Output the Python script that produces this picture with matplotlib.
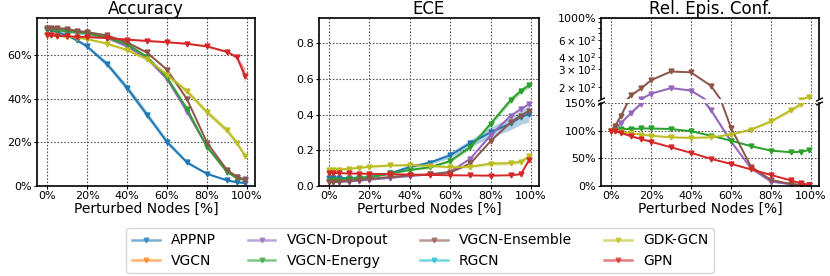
import numpy as np
import matplotlib
matplotlib.use("Agg")
import matplotlib.pyplot as plt
from matplotlib.ticker import PercentFormatter, FixedLocator

# perturbed share of nodes [%]
perturbed = [0, 2, 5, 10, 15, 20, 30, 40, 50, 60, 70, 80, 90, 95, 99]

models = ["APPNP", "VGCN", "VGCN-Dropout", "VGCN-Energy",
          "VGCN-Ensemble", "RGCN", "GDK-GCN", "GPN"]
colors = {"APPNP": "C0", "VGCN": "C1", "VGCN-Dropout": "C4", "VGCN-Energy": "C2",
          "VGCN-Ensemble": "C5", "RGCN": "C9", "GDK-GCN": "C8", "GPN": "C3"}

# accuracy [%]
acc_appnp = [71.5, 71.5, 70.5, 69, 66.8, 64, 55.9, 45, 32.7, 20.2, 10.8, 5.6, 2.6, 1.7, 1.4]
acc_dropout = [72, 71.8, 71.5, 71, 70.5, 70, 68, 64, 58.5, 49, 34, 18, 6.5, 4, 3]
acc_energy = [72, 71.8, 71.5, 71, 70.5, 70, 68, 65, 59.2, 49.8, 35.4, 17.9, 6.5, 3.5, 2.8]
acc_ensemble = [72.6, 72.5, 72.3, 72, 71, 70.5, 69, 65.8, 61.2, 53.3, 39.8, 19.9, 7.3, 4.3, 2.7]
acc_gdk = [69, 69, 68.8, 68.5, 68, 67.3, 65.3, 62.3, 58.2, 51, 43.4, 33.9, 25.5, 19.7, 13.8]
acc_gpn = [69.1, 69, 68.9, 68.6, 68.4, 68.3, 67.8, 67.1, 66.5, 65.9, 65.2, 64, 61.5, 59, 50.6]

acc_appnp_sd = [0.5, 0.5, 0.5, 0.5, 0.6, 0.8, 1.2, 1.5, 1.5, 1.2, 0.8, 0.5, 0.4, 0.4, 0.4]
acc_gdk_sd = [0.3, 0.3, 0.3, 0.3, 0.3, 0.4, 0.5, 0.6, 0.8, 1.0, 1.2, 1.3, 1.3, 1.2, 1.2]
acc_gpn_sd = [0.3, 0.3, 0.3, 0.3, 0.3, 0.3, 0.3, 0.3, 0.3, 0.3, 0.3, 0.4, 0.5, 0.8, 3.5]

# expected calibration error
ece_appnp = [0.042, 0.043, 0.044, 0.045, 0.047, 0.05, 0.07, 0.107, 0.131, 0.172, 0.24, 0.30, 0.35, 0.385, 0.403]
ece_dropout = [0.02, 0.021, 0.023, 0.025, 0.03, 0.035, 0.045, 0.055, 0.065, 0.08, 0.153, 0.283, 0.394, 0.43, 0.458]
ece_energy = [0.03, 0.032, 0.035, 0.04, 0.045, 0.05, 0.07, 0.09, 0.105, 0.14, 0.218, 0.348, 0.482, 0.532, 0.564]
ece_ensemble = [0.022, 0.023, 0.025, 0.03, 0.035, 0.04, 0.05, 0.06, 0.065, 0.075, 0.126, 0.251, 0.357, 0.394, 0.421]
ece_gdk = [0.09, 0.091, 0.092, 0.097, 0.102, 0.108, 0.115, 0.117, 0.113, 0.105, 0.108, 0.125, 0.128, 0.135, 0.166]
ece_gpn = [0.075, 0.073, 0.072, 0.07, 0.069, 0.068, 0.066, 0.064, 0.062, 0.06, 0.059, 0.058, 0.06, 0.066, 0.143]

ece_appnp_sd = [0.005, 0.005, 0.005, 0.005, 0.005, 0.006, 0.006, 0.008, 0.01, 0.015, 0.02, 0.03, 0.035, 0.04, 0.045]
ece_energy_sd = [0.003, 0.003, 0.003, 0.003, 0.003, 0.003, 0.004, 0.005, 0.006, 0.008, 0.01, 0.012, 0.015, 0.015, 0.015]
ece_gdk_sd = [0.005, 0.005, 0.005, 0.005, 0.005, 0.005, 0.006, 0.006, 0.006, 0.006, 0.008, 0.01, 0.01, 0.01, 0.012]

# relative epistemic confidence [%]
rec_dropout = [100, 103, 114, 132, 149, 170, 194, 183, 137, 80.5, 32, 8, 3, 2, 1.5]
rec_energy = [100, 102, 103, 103, 104, 104, 103, 99, 91, 82, 72, 64, 61, 62, 65]
rec_ensemble = [100, 108, 127, 163, 192, 233, 286, 280, 204, 105, 35, 11, 3.6, 2, 1.5]
rec_gdk = [100, 99, 97, 95, 93, 91, 88, 87, 88, 93, 102, 117, 137, 148, 158]
rec_gpn = [100, 99, 96, 90, 85, 80, 70, 60, 49, 40, 30, 20, 10, 5, 2]

rec_dropout_sd = [1, 1, 1, 2, 2, 2, 3, 4, 4, 3, 2, 1, 0.5, 0.5, 0.5]
rec_gdk_sd = [1, 1, 1, 1, 1, 1, 1, 1, 1, 1, 2, 3, 3, 4, 4]

acc = {"APPNP": (acc_appnp, acc_appnp_sd), "VGCN-Dropout": (acc_dropout, None),
       "VGCN-Energy": (acc_energy, None), "VGCN-Ensemble": (acc_ensemble, None),
       "GDK-GCN": (acc_gdk, acc_gdk_sd), "GPN": (acc_gpn, acc_gpn_sd)}
ece = {"APPNP": (ece_appnp, ece_appnp_sd), "VGCN-Dropout": (ece_dropout, None),
       "VGCN-Energy": (ece_energy, ece_energy_sd), "VGCN-Ensemble": (ece_ensemble, None),
       "GDK-GCN": (ece_gdk, ece_gdk_sd), "GPN": (ece_gpn, None)}
rec = {"VGCN-Dropout": (rec_dropout, rec_dropout_sd), "VGCN-Energy": (rec_energy, None),
       "VGCN-Ensemble": (rec_ensemble, None), "GDK-GCN": (rec_gdk, rec_gdk_sd),
       "GPN": (rec_gpn, None)}

plt.rcParams["font.size"] = 10
TICK = 8


def draw(ax, series):
    x = np.array(perturbed)
    for name, (y, sd) in series.items():
        y = np.array(y)
        ax.plot(x, y, color=colors[name], marker="v", ms=3.5, lw=1.4)
        if sd is None:
            sd = np.abs(y) * 0.01
        sd = np.array(sd)
        ax.fill_between(x, y - sd, y + sd, color=colors[name], alpha=0.35, lw=0)


def style(ax):
    ax.grid(True, ls=(0, (1.5, 1.5)), color="0.35", lw=0.8)
    for s in ax.spines.values():
        s.set_linewidth(1.2)
    ax.set_xticks([0, 20, 40, 60, 80, 100])
    ax.xaxis.set_major_formatter(PercentFormatter(decimals=0))
    ax.tick_params(which="both", length=2, pad=1.5, labelsize=TICK)


fig = plt.figure(figsize=(8.3, 2.76), dpi=100)
H = 276
W = 830


def box(l, r, t, b):
    return [l / W, (H - b) / H, (r - l) / W, (b - t) / H]


# Accuracy
ax1 = fig.add_axes(box(37, 255, 18, 186))
draw(ax1, acc)
style(ax1)
ax1.set_xlim(-5, 104)
ax1.set_ylim(0, 77)
ax1.set_yticks([0, 20, 40, 60])
ax1.yaxis.set_major_formatter(PercentFormatter(decimals=0))
ax1.set_title("Accuracy", pad=1.5)
ax1.set_xlabel("Perturbed Nodes [%]", labelpad=1)

# ECE
ax2 = fig.add_axes(box(319, 539, 18, 186))
draw(ax2, ece)
style(ax2)
ax2.set_xlim(-5, 104)
ax2.set_ylim(0, 0.94)
ax2.set_yticks([0, 0.2, 0.4, 0.6, 0.8])
ax2.set_title("ECE", pad=1.5)
ax2.set_xlabel("Perturbed Nodes [%]", labelpad=1)

# Rel. Epis. Conf. with broken y axis
ax3t = fig.add_axes(box(601, 819, 18, 99))
ax3b = fig.add_axes(box(601, 819, 103, 186))
for a in (ax3t, ax3b):
    draw(a, rec)
    style(a)
    a.set_xlim(-5, 104)
ax3t.set_yscale("log")
ax3t.set_ylim(150, 1000)
ax3t.yaxis.set_major_locator(FixedLocator([1000]))
ax3t.yaxis.set_major_formatter(PercentFormatter(decimals=0))
minor = [200, 300, 400, 500, 600, 700, 800, 900]
ax3t.yaxis.set_minor_locator(FixedLocator(minor))
lbl = {200: r"$2\times10^{2}$", 300: r"$3\times10^{2}$", 400: r"$4\times10^{2}$", 600: r"$6\times10^{2}$"}
ax3t.yaxis.set_minor_formatter(plt.FuncFormatter(lambda v, p: lbl.get(int(round(v)), "")))
ax3t.tick_params(axis="y", which="minor", labelsize=7.5)
ax3t.tick_params(axis="x", bottom=False, labelbottom=False)
ax3t.spines["bottom"].set_visible(False)
ax3t.set_title("Rel. Epis. Conf.", pad=1.5)

ax3b.set_ylim(0, 150)
ax3b.set_yticks([0, 50, 100, 150])
ax3b.yaxis.set_major_formatter(PercentFormatter(decimals=0))
ax3b.spines["top"].set_visible(False)
ax3b.set_xlabel("Perturbed Nodes [%]", labelpad=1)

# break marks
d = 0.5
kw = dict(marker=[(-1, -d), (1, d)], markersize=5, linestyle="none",
          color="k", mec="k", mew=1, clip_on=False)
ax3t.plot([0, 1], [0, 0], transform=ax3t.transAxes, **kw)
ax3b.plot([0, 1], [1, 1], transform=ax3b.transAxes, **kw)

# legend
handles = [plt.Line2D([], [], color=colors[m], marker="v", ms=3.5, lw=1.8, alpha=0.6) for m in models]
fig.legend(handles, models, loc="lower center", bbox_to_anchor=(0.506, 0.0), ncol=4,
           fontsize=10, handlelength=2.0, columnspacing=2.3, borderpad=0.4,
           labelspacing=0.45, borderaxespad=0.2, framealpha=0.8)

fig.savefig("out.png", dpi=100)
